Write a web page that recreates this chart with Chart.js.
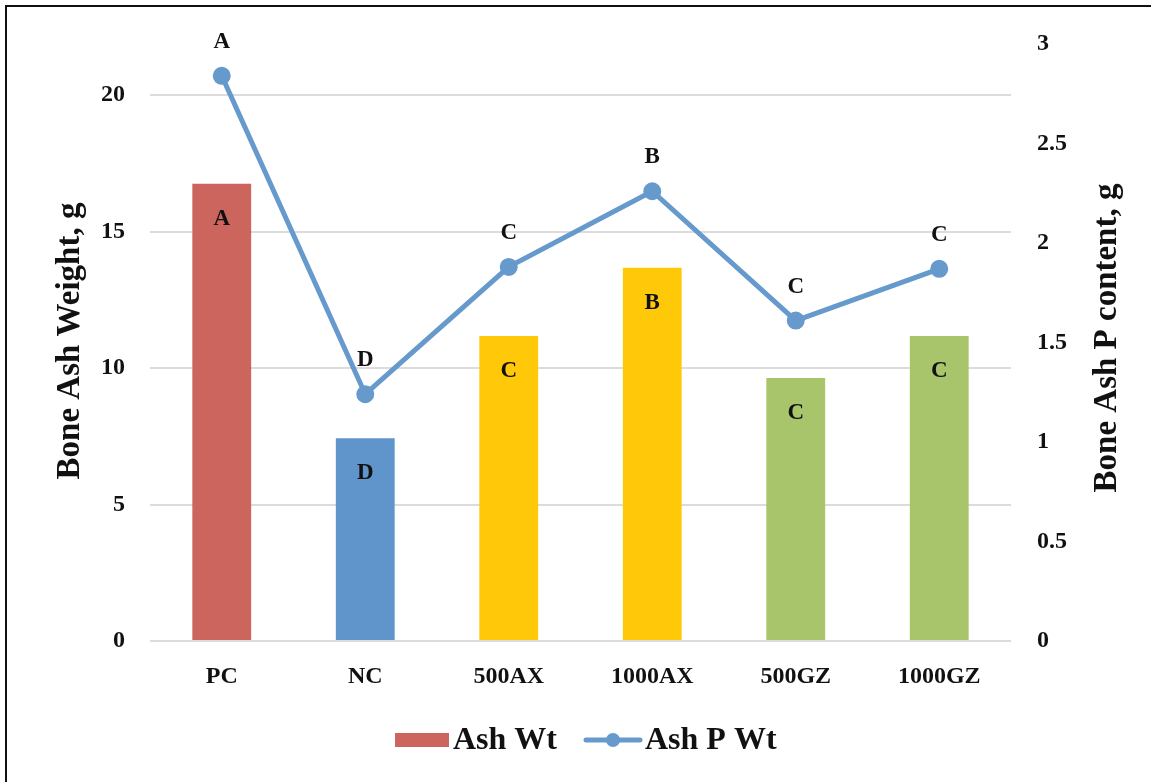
<!DOCTYPE html>
<html>
<head>
<meta charset="utf-8">
<script src="https://cdn.jsdelivr.net/npm/chart.js@4"></script>
<style>
  html, body { margin: 0; padding: 0; background: #fff; }
  #wrap { position: relative; width: 1151px; height: 782px; overflow: hidden; }
  #frame { position: absolute; left: 5px; top: 5px; width: 1160px; height: 790px; border: 2px solid #111; box-sizing: border-box; pointer-events: none; }
  canvas { position: absolute; left: 0; top: 0; }
</style>
</head>
<body>
<div id="wrap">
  <canvas id="chart" width="1151" height="782"></canvas>
  <div id="frame"></div>
</div>
<script>
const categories = ["PC", "NC", "500AX", "1000AX", "500GZ", "1000GZ"];
const ashWt = [16.75, 7.43, 11.17, 13.67, 9.63, 11.17];
const ashPWt = [2.84, 1.24, 1.88, 2.26, 1.61, 1.87];
const barLetters = ["A", "D", "C", "B", "C", "C"];
const lineLetters = ["A", "D", "C", "B", "C", "C"];
const barColors = ["#cd655f", "#6095cc", "#ffc90a", "#ffc90a", "#a9c56c", "#a9c56c"];
const lineColor = "#6699cc";
const fontFamily = "'Liberation Serif', 'DejaVu Serif', serif";

const lettersPlugin = {
  id: "letters",
  afterDatasetsDraw(chart) {
    const ctx = chart.ctx;
    ctx.save();
    ctx.fillStyle = "#111";
    ctx.font = "bold 23px " + fontFamily;
    ctx.textAlign = "center";
    ctx.textBaseline = "middle";
    chart.getDatasetMeta(1).data.forEach((bar, i) => {
      ctx.fillText(barLetters[i], bar.x, bar.y + 35);
    });
    chart.getDatasetMeta(0).data.forEach((pt, i) => {
      ctx.fillText(lineLetters[i], pt.x, pt.y - 34);
    });
    ctx.restore();
  },
  afterDraw(chart) {
    const ctx = chart.ctx;
    ctx.save();
    ctx.fillStyle = "#111";
    ctx.font = "bold 33px " + fontFamily;
    ctx.textAlign = "center";
    ctx.textBaseline = "middle";
    // axis titles
    ctx.save();
    ctx.translate(70, 341);
    ctx.rotate(-Math.PI / 2);
    ctx.fillText("Bone Ash Weight, g", 0, 0);
    ctx.restore();
    ctx.save();
    ctx.translate(1107, 338);
    ctx.rotate(-Math.PI / 2);
    ctx.fillText("Bone Ash P content, g", 0, 0);
    ctx.restore();
    // legend
    const ly = 740;
    ctx.font = "bold 32px " + fontFamily;
    ctx.textAlign = "left";
    ctx.fillStyle = barColors[0];
    ctx.fillRect(395, ly - 7, 54, 14);
    ctx.fillStyle = "#111";
    ctx.fillText("Ash Wt", 453, ly + 1);
    ctx.strokeStyle = lineColor;
    ctx.lineWidth = 5;
    ctx.lineCap = "round";
    ctx.beginPath();
    ctx.moveTo(586, ly);
    ctx.lineTo(640, ly);
    ctx.stroke();
    ctx.fillStyle = lineColor;
    ctx.beginPath();
    ctx.arc(613, ly, 7, 0, Math.PI * 2);
    ctx.fill();
    ctx.fillStyle = "#111";
    ctx.fillText("Ash P Wt", 645, ly + 1);
    ctx.restore();
  }
};

const tickFont = { family: fontFamily, size: 24, weight: "bold" };

new Chart(document.getElementById("chart"), {
  data: {
    labels: categories,
    datasets: [
      {
        type: "line",
        label: "Ash P Wt",
        data: ashPWt,
        yAxisID: "yRight",
        borderColor: lineColor,
        backgroundColor: lineColor,
        borderWidth: 5,
        pointRadius: 6.5,
        pointHoverRadius: 6.5,
        tension: 0,
        order: 0
      },
      {
        type: "bar",
        label: "Ash Wt",
        data: ashWt,
        yAxisID: "yLeft",
        backgroundColor: barColors,
        barPercentage: 0.41,
        categoryPercentage: 1,
        order: 1
      }
    ]
  },
  options: {
    responsive: false,
    animation: false,
    layout: { padding: { left: 0, right: 0, top: 44, bottom: 81 } },
    plugins: {
      legend: { display: false },
      tooltip: { enabled: false }
    },
    scales: {
      x: {
        grid: { display: false },
        border: { display: false },
        ticks: { color: "#111", font: tickFont, padding: 13, maxRotation: 0 },
        afterFit(axis) { axis.height = 60; }
      },
      yLeft: {
        position: "left",
        min: 0,
        max: 21.87,
        border: { display: false },
        grid: { color: "#dcdcdc", lineWidth: 2, drawTicks: false },
        ticks: { stepSize: 5, color: "#111", font: tickFont, padding: 25 },
        afterBuildTicks(axis) {
          axis.ticks = axis.ticks.filter(t => t.value % 5 === 0);
        },
        afterFit(axis) { axis.width = 150; }
      },
      yRight: {
        position: "right",
        min: 0,
        max: 3,
        border: { display: false },
        grid: { display: false, drawTicks: false },
        ticks: {
          stepSize: 0.5, color: "#111", font: tickFont, padding: 26,
          callback: v => String(v)
        },
        afterFit(axis) { axis.width = 140; }
      }
    }
  },
  plugins: [lettersPlugin]
});
</script>
</body>
</html>
